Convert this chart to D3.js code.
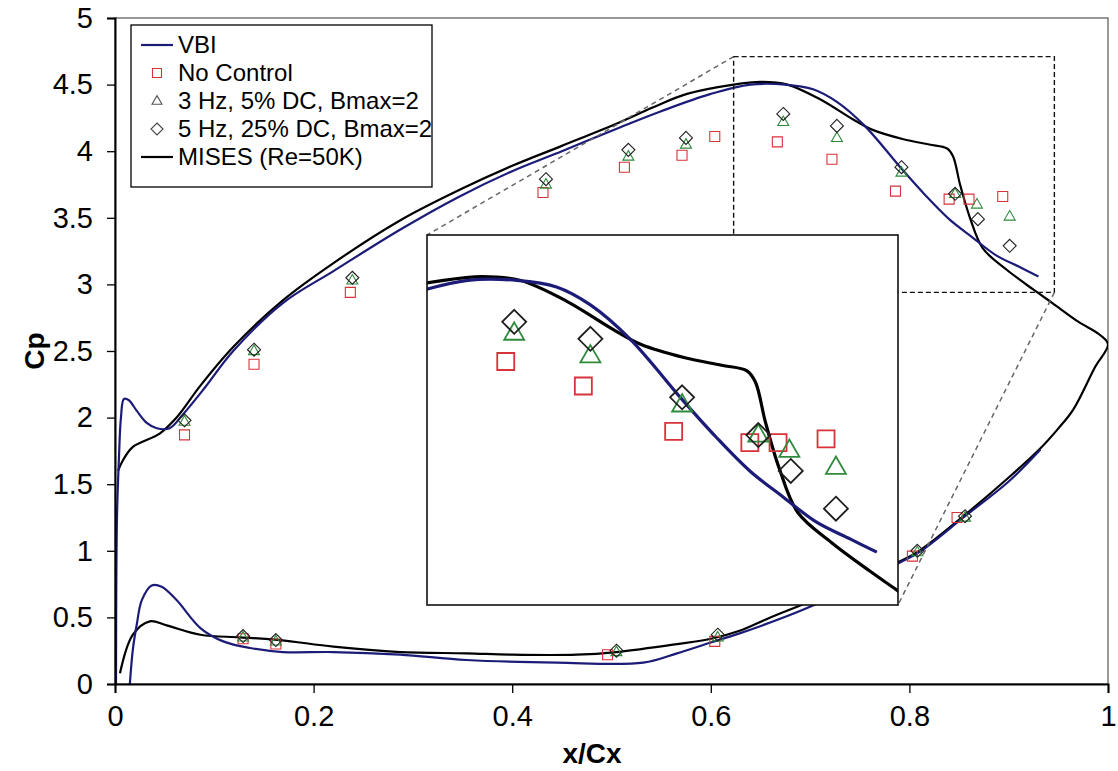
<!DOCTYPE html>
<html>
<head>
<meta charset="utf-8">
<script src="https://cdn.jsdelivr.net/npm/d3@7"></script>
<style>
  body { margin: 0; background: #fff; }
  svg { display: block; }
  text { font-family: "Liberation Sans", Arial, sans-serif; fill: #000; }
</style>
</head>
<body>
<svg id="chart" width="1118" height="771"></svg>
<script>
// ---- Pressure distribution data (Cp vs x/Cx) ----

// Axis ticks
const xTicks = [0, 0.2, 0.4, 0.6, 0.8, 1];
const yTicks = [0, 0.5, 1, 1.5, 2, 2.5, 3, 3.5, 4, 4.5, 5];

// VBI prediction: suction surface (LE -> TE) and pressure surface (LE -> TE)
const vbiUpperX  = [0.001, 0.002, 0.004, 0.006, 0.009, 0.014, 0.022, 0.032, 0.042, 0.055, 0.068, 0.09, 0.119, 0.169, 0.22, 0.287, 0.347, 0.40, 0.45, 0.509, 0.55, 0.60, 0.64, 0.675, 0.703, 0.727, 0.755, 0.793, 0.816, 0.840, 0.864, 0.887, 0.911, 0.930];
const vbiUpperCp = [-0.05, 1.25, 1.70, 2.00, 2.14, 2.13, 2.05, 1.96, 1.92, 1.92, 2.02, 2.22, 2.50, 2.86, 3.10, 3.41, 3.66, 3.85, 4.00, 4.18, 4.30, 4.43, 4.50, 4.50, 4.465, 4.37, 4.19, 3.86, 3.67, 3.49, 3.35, 3.22, 3.13, 3.06];
const vbiLowerX  = [0.014, 0.018, 0.022, 0.027, 0.037, 0.047, 0.062, 0.086, 0.109, 0.136, 0.169, 0.22, 0.287, 0.354, 0.445, 0.532, 0.566, 0.599, 0.629, 0.697, 0.75, 0.79, 0.81, 0.856, 0.90, 0.932];
const vbiLowerCp = [-0.10, 0.26, 0.45, 0.63, 0.74, 0.73, 0.63, 0.42, 0.32, 0.27, 0.24, 0.24, 0.22, 0.18, 0.16, 0.16, 0.23, 0.31, 0.38, 0.57, 0.76, 0.91, 0.99, 1.26, 1.52, 1.76];

// MISES (Re=50K): one loop, suction surface to TE, then back along the pressure surface
const misesX  = [0.003, 0.008, 0.018, 0.045, 0.062, 0.086, 0.119, 0.169, 0.22, 0.287, 0.347, 0.40, 0.45, 0.509, 0.542, 0.576, 0.623, 0.65, 0.677, 0.71, 0.743, 0.763, 0.794, 0.82, 0.838, 0.844, 0.851, 0.861, 0.874, 0.898, 0.925, 0.944, 0.97, 0.992, 1.0, 0.987, 0.965, 0.949, 0.932, 0.90, 0.856, 0.81, 0.79, 0.75, 0.70, 0.66, 0.629, 0.60, 0.566, 0.505, 0.465, 0.40, 0.354, 0.287, 0.22, 0.166, 0.126, 0.086, 0.052, 0.035, 0.018, 0.005];
const misesCp = [1.60, 1.68, 1.78, 1.88, 2.00, 2.24, 2.53, 2.88, 3.16, 3.48, 3.71, 3.89, 4.04, 4.22, 4.33, 4.43, 4.50, 4.52, 4.50, 4.39, 4.24, 4.16, 4.09, 4.05, 4.02, 3.96, 3.75, 3.50, 3.27, 3.11, 2.96, 2.86, 2.72, 2.62, 2.55, 2.38, 2.06, 1.91, 1.77, 1.55, 1.27, 1.00, 0.92, 0.78, 0.62, 0.50, 0.40, 0.34, 0.30, 0.24, 0.22, 0.22, 0.23, 0.24, 0.28, 0.33, 0.35, 0.37, 0.44, 0.47, 0.37, 0.08];

// Measurements: No Control
const noControlX  = [0.070, 0.140, 0.237, 0.431, 0.513, 0.571, 0.604, 0.667, 0.722, 0.786, 0.840, 0.860, 0.894, 0.129, 0.162, 0.496, 0.604, 0.803, 0.848];
const noControlCp = [1.87, 2.40, 2.94, 3.69, 3.88, 3.97, 4.11, 4.07, 3.94, 3.70, 3.64, 3.64, 3.66, 0.34, 0.30, 0.22, 0.32, 0.96, 1.25];

// Measurements: 3 Hz, 5% DC, Bmax=2
const hz3X  = [0.070, 0.140, 0.239, 0.434, 0.517, 0.575, 0.673, 0.727, 0.792, 0.846, 0.868, 0.901, 0.129, 0.162, 0.505, 0.607, 0.808, 0.856];
const hz3Cp = [1.97, 2.50, 3.03, 3.75, 3.96, 4.05, 4.22, 4.10, 3.84, 3.68, 3.60, 3.51, 0.35, 0.32, 0.24, 0.35, 0.99, 1.25];

// Measurements: 5 Hz, 25% DC, Bmax=2
const hz5X  = [0.070, 0.140, 0.239, 0.434, 0.517, 0.575, 0.673, 0.727, 0.792, 0.846, 0.869, 0.901, 0.129, 0.162, 0.505, 0.607, 0.808, 0.856];
const hz5Cp = [1.98, 2.51, 3.05, 3.79, 4.01, 4.10, 4.28, 4.19, 3.88, 3.68, 3.49, 3.29, 0.36, 0.33, 0.25, 0.37, 1.00, 1.26];

// Region magnified in the inset, and the inset's own axis ranges
const zoomBoxX = [0.623, 0.946];
const zoomBoxCp = [2.94, 4.71];
const insetX = [0.6112, 0.945];
const insetCp = [2.78, 4.74];

const legendLabels = ["VBI", "No Control", "3 Hz, 5% DC, Bmax=2", "5 Hz, 25% DC, Bmax=2", "MISES (Re=50K)"];

// ---- Styles ----
const C_VBI = "#1c1c78";
const C_MISES = "#000000";
const C_SQ = "#d8323a";
const C_TRI = "#2f8a3c";
const C_DIA = "#1e1e1e";

// ---- Layout ----
const W = 1118, H = 771;
const m = { left: 115, right: 10, top: 18, bottom: 87 };
const inset = { x: 427, y: 235, w: 471, h: 370 };

const svg = d3.select("#chart");

const x = d3.scaleLinear().domain([0, 1]).range([m.left, W - m.right]);
const y = d3.scaleLinear().domain([0, 5]).range([H - m.bottom, m.top]);

const xi = d3.scaleLinear().domain(insetX).range([inset.x, inset.x + inset.w]);
const yi = d3.scaleLinear().domain(insetCp).range([inset.y + inset.h, inset.y]);

const zip = (xs, ys) => xs.map((v, i) => [v, ys[i]]);

// marker path builders (center, size)
const shapes = {
  square: (cx, cy, s) => { const h = s / 2; return `M${cx - h},${cy - h}h${s}v${s}h${-s}Z`; },
  triangle: (cx, cy, s) => { const h = s * 0.866; return `M${cx},${cy - h * 0.62}L${cx + s / 2},${cy + h * 0.38}L${cx - s / 2},${cy + h * 0.38}Z`; },
  diamond: (cx, cy, s) => { const h = s / 2; return `M${cx},${cy - h}L${cx + h},${cy}L${cx},${cy + h}L${cx - h},${cy}Z`; }
};

const defs = svg.append("defs");
defs.append("clipPath").attr("id", "plotClip").append("rect")
  .attr("x", m.left).attr("y", m.top)
  .attr("width", W - m.left - m.right).attr("height", H - m.top - m.bottom);
defs.append("clipPath").attr("id", "insetClip").append("rect")
  .attr("x", inset.x).attr("y", inset.y).attr("width", inset.w).attr("height", inset.h);

// plot frame
svg.append("rect")
  .attr("x", m.left).attr("y", m.top)
  .attr("width", W - m.left - m.right).attr("height", H - m.top - m.bottom)
  .attr("fill", "#fff").attr("stroke", "#555").attr("stroke-width", 1.2);

// draws curves and markers for a pair of scales
function drawSeries(g, sx, sy, opt) {
  const line = d3.line().x(d => sx(d[0])).y(d => sy(d[1])).curve(d3.curveCatmullRom.alpha(0.5));
  g.append("path").datum(zip(misesX, misesCp)).attr("d", line)
    .attr("fill", "none").attr("stroke", C_MISES).attr("stroke-width", opt.lw).attr("stroke-linejoin", "round");
  [zip(vbiUpperX, vbiUpperCp), zip(vbiLowerX, vbiLowerCp)].forEach(pts => {
    g.append("path").datum(pts).attr("d", line)
      .attr("fill", "none").attr("stroke", C_VBI).attr("stroke-width", opt.lw).attr("stroke-linejoin", "round");
  });
  const sets = [
    { xs: noControlX, ys: noControlCp, shape: "square", color: C_SQ, size: opt.sq },
    { xs: hz3X, ys: hz3Cp, shape: "triangle", color: C_TRI, size: opt.tri },
    { xs: hz5X, ys: hz5Cp, shape: "diamond", color: C_DIA, size: opt.dia }
  ];
  sets.forEach(s => {
    g.append("g").selectAll("path").data(zip(s.xs, s.ys)).join("path")
      .attr("d", d => shapes[s.shape](sx(d[0]), sy(d[1]), s.size))
      .attr("fill", "none").attr("stroke", s.color).attr("stroke-width", opt.mw);
  });
}

// main plot
const main = svg.append("g").attr("clip-path", "url(#plotClip)");
drawSeries(main, x, y, { lw: 2.2, sq: 10, tri: 11, dia: 13, mw: 1.1 });

// axes
const xAxis = d3.axisBottom(x).tickValues(xTicks).tickSize(9).tickPadding(12)
  .tickFormat(d => d3.format("")(d));
const yAxis = d3.axisLeft(y).tickValues(yTicks).tickSize(8).tickPadding(14)
  .tickFormat(d => d3.format("")(d));

const gx = svg.append("g").attr("transform", `translate(0,${H - m.bottom})`).call(xAxis);
const gy = svg.append("g").attr("transform", `translate(${m.left},0)`).call(yAxis);
[gx, gy].forEach(g => {
  g.select(".domain").attr("stroke", "#000").attr("stroke-width", 2);
  g.selectAll(".tick line").attr("stroke", "#000").attr("stroke-width", 1.3);
  g.selectAll(".tick text").attr("font-size", 29).attr("fill", "#000")
    .style("font-family", "'Liberation Sans', Arial, sans-serif");
});

// axis titles
svg.append("text").attr("x", 592).attr("y", 763).attr("text-anchor", "middle")
  .attr("font-size", 28).attr("font-weight", "bold").text("x/Cx");
svg.append("text").attr("transform", `translate(44,${y(2.5)}) rotate(-90)`).attr("text-anchor", "middle")
  .attr("font-size", 28).attr("font-weight", "bold").text("Cp");

// magnified region outline and connector lines
svg.append("rect")
  .attr("x", x(zoomBoxX[0])).attr("y", y(zoomBoxCp[1]))
  .attr("width", x(zoomBoxX[1]) - x(zoomBoxX[0])).attr("height", y(zoomBoxCp[0]) - y(zoomBoxCp[1]))
  .attr("fill", "none").attr("stroke", "#111").attr("stroke-width", 1.4).attr("stroke-dasharray", "5,3");
svg.append("line")
  .attr("x1", x(zoomBoxX[0])).attr("y1", y(zoomBoxCp[1]))
  .attr("x2", inset.x).attr("y2", inset.y)
  .attr("stroke", "#666").attr("stroke-width", 1.5).attr("stroke-dasharray", "5,4");
svg.append("line")
  .attr("x1", x(zoomBoxX[1])).attr("y1", y(zoomBoxCp[0]))
  .attr("x2", inset.x + inset.w).attr("y2", inset.y + inset.h)
  .attr("stroke", "#666").attr("stroke-width", 1.5).attr("stroke-dasharray", "5,4");

// inset
svg.append("rect").attr("x", inset.x).attr("y", inset.y).attr("width", inset.w).attr("height", inset.h)
  .attr("fill", "#fff");
const ig = svg.append("g").attr("clip-path", "url(#insetClip)");
drawSeries(ig, xi, yi, { lw: 3.2, sq: 17, tri: 20, dia: 24, mw: 1.8 });
svg.append("rect").attr("x", inset.x).attr("y", inset.y).attr("width", inset.w).attr("height", inset.h)
  .attr("fill", "none").attr("stroke", "#111").attr("stroke-width", 1.6);

// legend
const lg = svg.append("g");
lg.append("rect").attr("x", 131).attr("y", 25).attr("width", 301).attr("height", 162)
  .attr("fill", "#fff").attr("stroke", "#000").attr("stroke-width", 1.3);
const legendStyle = [
  { type: "line", color: C_VBI },
  { type: "square", color: C_SQ },
  { type: "triangle", color: "#555" },
  { type: "diamond", color: "#444" },
  { type: "line", color: C_MISES }
];
legendLabels.forEach((label, i) => {
  const cy = 45 + i * 28;
  const st = legendStyle[i];
  if (st.type === "line") {
    lg.append("line").attr("x1", 141).attr("x2", 173).attr("y1", cy).attr("y2", cy)
      .attr("stroke", st.color).attr("stroke-width", 2.2);
  } else {
    const size = st.type === "square" ? 9 : st.type === "triangle" ? 10 : 12;
    lg.append("path").attr("d", shapes[st.type](157, cy, size))
      .attr("fill", "none").attr("stroke", st.color).attr("stroke-width", 1.1);
  }
  lg.append("text").attr("x", 178).attr("y", cy).attr("dy", "0.35em")
    .attr("font-size", 24).text(label);
});
</script>
</body>
</html>
